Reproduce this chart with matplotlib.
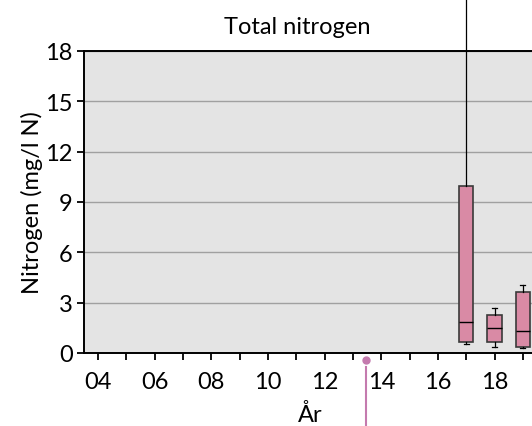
import matplotlib
matplotlib.use("Agg")
import matplotlib.pyplot as plt

plt.rcParams['font.family'] = ['Lato', 'DejaVu Sans']

years = [2017, 2018, 2019]
whislo = [0.54, 0.34, 0.30]
q1 = [0.67, 0.67, 0.34]
med = [1.83, 1.47, 1.29]
q3 = [9.97, 2.28, 3.65]
whishi = [25.0, 2.68, 4.07]

marker_year = 2013.46
tick_years = list(range(2004, 2020))
label_years = list(range(2004, 2020, 2))
yticks = [0, 3, 6, 9, 12, 15, 18]

box_color = '#D98AA5'
marker_color = '#C47AAE'
FS = 17

fig = plt.figure(figsize=(5.32, 4.27), dpi=100)
ax = fig.add_axes([84/532, 1-354/427, 453/532, 302/427])
ax.set_facecolor('#E4E4E4')

stats = []
for i in range(len(years)):
    stats.append(dict(whislo=whislo[i], q1=q1[i], med=med[i], q3=q3[i], whishi=whishi[i], fliers=[]))

bp = ax.bxp(stats, positions=years, widths=0.5, patch_artist=True, showfliers=False,
            boxprops=dict(facecolor=box_color, edgecolor='#3a3a3a', linewidth=1.2),
            medianprops=dict(color='black', linewidth=1.0),
            whiskerprops=dict(color='black', linewidth=0.9),
            capprops=dict(color='black', linewidth=0.9), capwidths=0.18)
for w in bp['whiskers']:
    w.set_clip_on(False)
for c in bp['caps']:
    c.set_clip_on(False)
bp['caps'][1].set_visible(False)

ax.set_xlim(2003.5, 2019.5)
ax.set_ylim(0, 18)
ax.set_yticks(yticks)
ax.set_yticklabels([str(v) for v in yticks], fontsize=FS)
ax.set_xticks(tick_years, minor=True)
ax.set_xticks(label_years)
ax.set_xticklabels([f"{y % 100:02d}" for y in label_years], fontsize=FS)
ax.tick_params(axis='x', which='both', direction='out', length=5, width=1.3, pad=8)
ax.tick_params(axis='y', direction='out', length=5, width=1.3, pad=3)
ax.grid(axis='y', color='#a0a0a0', linewidth=1.0)
ax.set_axisbelow(True)
for s in ['left', 'bottom', 'top']:
    ax.spines[s].set_color('black')
    ax.spines[s].set_linewidth(1.4)
ax.spines['right'].set_visible(False)

ax.set_ylabel('Nitrogen (mg/l N)', fontsize=FS, labelpad=2)
ax.set_xlabel('År', fontsize=FS, labelpad=8)
fig.text(297/532, 1-28/427, 'Total nitrogen', ha='center', va='center', fontsize=FS)

ax.plot([marker_year], [-0.42], 'o', color=marker_color, markersize=5, clip_on=False)
ax.plot([marker_year, marker_year], [-0.85, -5], color=marker_color, linewidth=1.5, clip_on=False)

fig.savefig('out.png', dpi=100)
